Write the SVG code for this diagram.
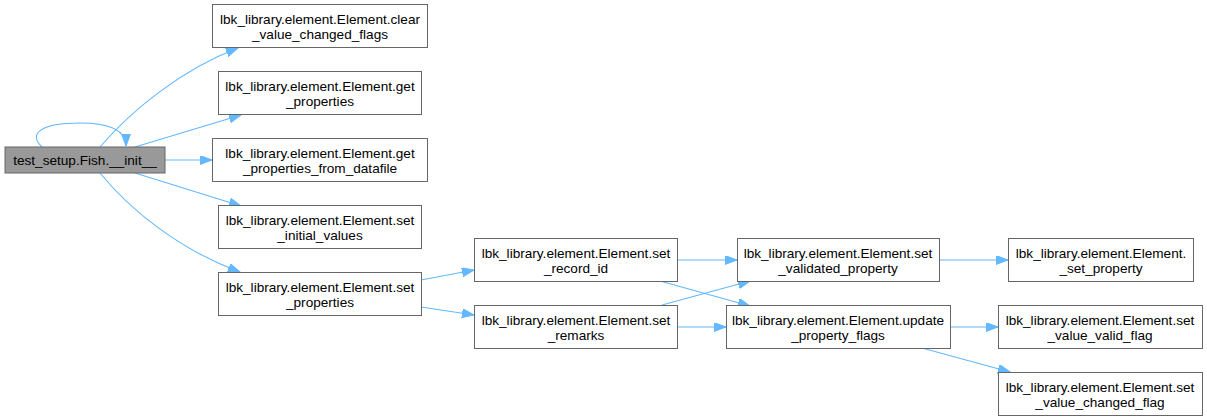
<svg xmlns="http://www.w3.org/2000/svg" width="1207" height="420" viewBox="0 0 1207 420">
<style>
.n rect{fill:#ffffff;stroke:#666666;stroke-width:1}
.root rect{fill:#999999;stroke:#666666}
text{font-family:"Liberation Sans",Arial,sans-serif;font-size:13.6px;fill:#000000;text-anchor:middle}
.e path{fill:none;stroke:#63b8ff;stroke-width:1.1;marker-end:url(#ah)}
</style>
<defs>
<marker id="ah" markerUnits="userSpaceOnUse" markerWidth="13" markerHeight="10" refX="12" refY="4.5" orient="auto">
<path d="M0,0 L12,4.5 L0,9 Z" fill="#63b8ff" stroke="#63b8ff"/>
</marker>
</defs>
<rect width="1207" height="420" fill="#ffffff"/>
<g id="edges" class="e">
<path d="M42,147 C28,134 40,123 80,123 C112,123 126,131 126,146"/>
<path d="M100,147 C130,112 180,70 238,48"/>
<path d="M135,147 L241,115"/>
<path d="M165,160 L212,160"/>
<path d="M135,173 L241,206"/>
<path d="M100,173 C130,210 180,250 240,272"/>
<path d="M421,280 L474,270"/>
<path d="M421,307 L474,315"/>
<path d="M678,260 L737,260"/>
<path d="M660,281 L750,306"/>
<path d="M662,305 L750,281"/>
<path d="M678,327 L726,327"/>
<path d="M939,260 L1008,260"/>
<path d="M950,327 L998,327"/>
<path d="M922,348 L1010,372"/>
</g>
<g id="root" class="n root"><rect x="5" y="147" width="160" height="26"/><text x="85" y="165">test_setup.Fish.__init__</text></g>
<g id="clear" class="n"><rect x="212.5" y="4.5" width="215" height="43"/><text x="320" y="23.5">lbk_library.element.Element.clear</text><text x="320" y="38.5">_value_changed_flags</text></g>
<g id="getprops" class="n"><rect x="218.5" y="71.5" width="203" height="43"/><text x="320" y="90.5">lbk_library.element.Element.get</text><text x="320" y="105.5">_properties</text></g>
<g id="getpropsdf" class="n"><rect x="212.5" y="138.5" width="215" height="43"/><text x="320" y="157.5">lbk_library.element.Element.get</text><text x="320" y="172.5">_properties_from_datafile</text></g>
<g id="setinit" class="n"><rect x="218.5" y="205.5" width="203" height="43"/><text x="320" y="224.5">lbk_library.element.Element.set</text><text x="320" y="239.5">_initial_values</text></g>
<g id="setprops" class="n"><rect x="218.5" y="272.5" width="203" height="43"/><text x="320" y="291.5">lbk_library.element.Element.set</text><text x="320" y="306.5">_properties</text></g>
<g id="setrecord" class="n"><rect x="474.5" y="238.5" width="203" height="43"/><text x="576" y="257.5">lbk_library.element.Element.set</text><text x="576" y="272.5">_record_id</text></g>
<g id="setremarks" class="n"><rect x="474.5" y="305.5" width="203" height="43"/><text x="576" y="324.5">lbk_library.element.Element.set</text><text x="576" y="339.5">_remarks</text></g>
<g id="setvalidated" class="n"><rect x="737.5" y="238.5" width="202" height="43"/><text x="838" y="257.5">lbk_library.element.Element.set</text><text x="838" y="272.5">_validated_property</text></g>
<g id="updateflags" class="n"><rect x="726.5" y="305.5" width="224" height="43"/><text x="838" y="324.5">lbk_library.element.Element.update</text><text x="838" y="339.5">_property_flags</text></g>
<g id="setproperty" class="n"><rect x="1008.5" y="238.5" width="185" height="43"/><text x="1101" y="257.5">lbk_library.element.Element.</text><text x="1101" y="272.5">_set_property</text></g>
<g id="validflag" class="n"><rect x="998.5" y="305.5" width="204" height="43"/><text x="1100" y="324.5">lbk_library.element.Element.set</text><text x="1100" y="339.5">_value_valid_flag</text></g>
<g id="changedflag" class="n"><rect x="998.5" y="372.5" width="204" height="43"/><text x="1100" y="391.5">lbk_library.element.Element.set</text><text x="1100" y="406.5">_value_changed_flag</text></g>
</svg>
